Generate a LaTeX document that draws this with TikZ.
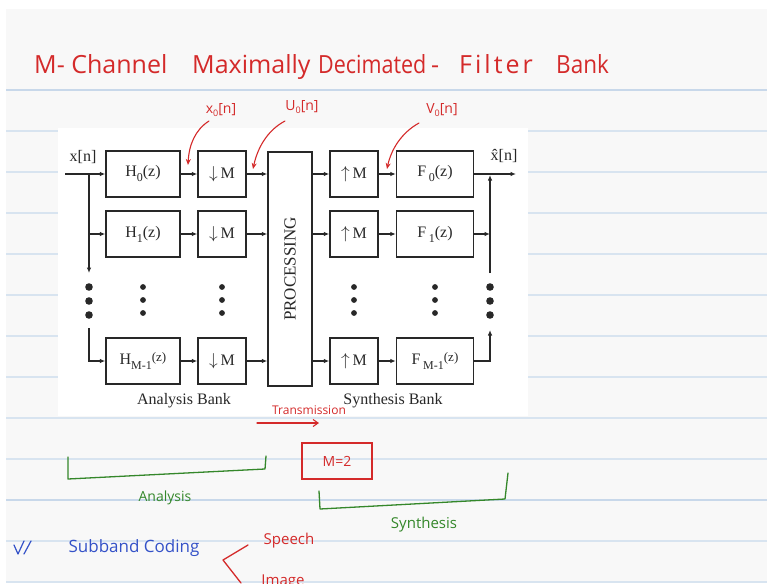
\documentclass[tikz,border=0pt]{standalone}
\usepackage{fontspec}
\setmainfont{Liberation Serif}
\newfontfamily\hand{Open Sans}
\newfontfamily\handwide{Open Sans}[LetterSpace=12]
\usetikzlibrary{arrows.meta}
\definecolor{ink}{RGB}{40,40,40}
\definecolor{hred}{RGB}{212,42,42}
\definecolor{hgreen}{RGB}{52,135,42}
\definecolor{hblue}{RGB}{52,82,200}
\definecolor{rulec}{RGB}{216,228,240}
\definecolor{rulek}{RGB}{200,216,234}
\definecolor{paper}{RGB}{248,248,248}
\newcommand\lowsub[1]{\raisebox{-5pt}{\fontsize{12}{12}\selectfont #1}}
\begin{document}
\begin{tikzpicture}[x=1pt,y=-1pt,
  wire/.style={draw=ink,line width=1.4pt},
  arr/.style={-{Latex[length=5.5pt,width=4.5pt]}},
  blk/.style={draw=ink,line width=1.4pt,minimum height=46pt,inner sep=0pt,
              font=\fontsize{16}{18}\selectfont,text=ink},
  lbl/.style={inner sep=0pt,text=ink,font=\fontsize{16}{18}\selectfont},
  hw/.style={inner sep=0pt,font=\hand\fontsize{#1}{#1}\selectfont},
  redline/.style={draw=hred,line width=1.1pt,line cap=round,line join=round},
  greenline/.style={draw=hgreen,line width=1.3pt,line cap=round,line join=round},
  blueline/.style={draw=hblue,line width=1.2pt,line cap=round,line join=round},
  bigdot/.style={fill=ink},
]
\useasboundingbox (0,0) rectangle (767,583);
\clip (0,0) rectangle (767,583);
% paper
\fill[white] (0,0) rectangle (767,583);
\fill[paper] (6,9) rectangle (767,583);
\foreach \yy in {131,172,213,254,295,336,377,418,459,541,582}
  \draw[rulec,line width=1.2pt] (6,\yy) -- (767,\yy);
\draw[rulek,line width=1.6pt] (6,90) -- (767,90);
\draw[rulek,line width=1.6pt] (6,500) -- (767,500);
\fill[white] (58,128) rectangle (528,416);

% ---------- title ----------
\begin{scope}[every node/.style={hw=25,text=hred,anchor=base west}]
\node (t1) at (34,74) {M- Channel};
\node (t2) at (192,74) {Maximally};
\node[xscale=0.86] (t3) at (318,74) {Decimated};
\node (t4) at (431,74) {-};
\node[font=\handwide\fontsize{25}{25}\selectfont] (t5) at (459,74) {Filter};
\node[xscale=0.9] (t6) at (556,74) {Bank};
\end{scope}

% ---------- blocks ----------
\foreach \i/\yy in {0/174,1/234,2/361}{
  \node[blk,minimum width=48pt] (D\i) at (222,\yy) {$\downarrow$\,M};
  \node[blk,minimum width=48pt] (U\i) at (354,\yy) {$\uparrow$\,M};
}
\node[blk,minimum width=74pt] (H0) at (143,174) {H\lowsub{0}(z)};
\node[blk,minimum width=74pt] (H1) at (143,234) {H\lowsub{1}(z)};
\node[blk,minimum width=74pt] (H2) at (143,361) {H\lowsub{M-1}\raisebox{3pt}{\fontsize{13}{13}\selectfont(z)}};
\node[blk,minimum width=77pt] (F0) at (435,174) {F\,\lowsub{0}(z)};
\node[blk,minimum width=77pt] (F1) at (435,234) {F\,\lowsub{1}(z)};
\node[blk,minimum width=77pt] (F2) at (435,361) {F\,\lowsub{M-1}\raisebox{3pt}{\fontsize{13}{13}\selectfont(z)}};
\node[blk,minimum width=44pt,minimum height=234pt] (P) at (290,269) {};
\node[lbl,rotate=90,font=\fontsize{17}{18}\selectfont] (Ptxt) at (P.center) {PROCESSING};

% ---------- labels ----------
\node[lbl] (xin) at (83,157) {x[n]};
\node[lbl] (xout) at (504,156) {\^{x}[n]};
\node[lbl] (abank) at (184,401) {Analysis Bank};
\node[lbl] (sbank) at (393,401) {Synthesis Bank};

% ---------- wires ----------
\coordinate (in) at (65,174);
\coordinate (jL0) at (89,174);
\coordinate (jL1) at (89,234);
\coordinate (lbA) at (89,273);
\coordinate (lbB) at (89,328);
\coordinate (jL2) at (89,361);
\draw[wire,arr] (in) -- (H0.west);
\draw[wire,arr] (jL0) -- (lbA);
\draw[wire,arr] (jL1) -- (H1.west);
\draw[wire,arr] (lbB) -- (jL2) -- (H2.west);
\foreach \i in {0,1,2}{
  \draw[wire,arr] (H\i.east) -- (D\i.west);
  \draw[wire,arr] (D\i.east) -- (D\i.east -| P.west);
  \draw[wire,arr] (U\i.west -| P.east) -- (U\i.west);
  \draw[wire,arr] (U\i.east) -- (F\i.west);
}
\coordinate (out) at (516,174);
\coordinate (jR0) at (490,175);
\coordinate (jR1) at (490,234);
\coordinate (rbA) at (490,273);
\coordinate (rbB) at (490,330);
\coordinate (jR2) at (490,361);
\draw[wire,arr] (F0.east) -- (out);
\draw[wire,arr] (rbA) -- (jR0);
\draw[wire,arr] (F1.east) -- (jR1);
\draw[wire,arr] (F2.east) -- (jR2) -- (rbB);

% dots
\foreach \yy in {287,301,315}{
  \fill[bigdot] (89,\yy) circle[radius=3.8pt];
  \fill[bigdot] (490,\yy) circle[radius=3.8pt];
}
\foreach \xx in {143,222,354,435}
  \foreach \yy in {287,300,313}
    \fill[bigdot] (\xx,\yy) circle[radius=2.9pt];

% ---------- red annotations ----------
\node[hw=14,text=hred] (ax0) at (221,110) {x\raisebox{-3pt}{\fontsize{9}{9}\selectfont 0}[n]};
\node[hw=14,text=hred] (au0) at (302,107) {U\raisebox{-3pt}{\fontsize{9}{9}\selectfont 0}[n]};
\node[hw=14,text=hred] (av0) at (442,110) {V\raisebox{-3pt}{\fontsize{9}{9}\selectfont 0}[n]};
\draw[redline,-{Stealth[length=6pt,width=5pt]}] (209,121) .. controls (195,130) and (189,145) .. (188,165);
\draw[redline,-{Stealth[length=6pt,width=5pt]}] (285,121) .. controls (266,131) and (257,150) .. (253,169);
\draw[redline,-{Stealth[length=6pt,width=5pt]}] (419,123) .. controls (401,133) and (391,150) .. (387,169);

\node[hw=12,text=hred] (trans) at (309,410) {Transmission};
\coordinate (trA) at (257,423);
\coordinate (trB) at (319,423);
\draw[redline,-{Straight Barb[length=5pt,width=7pt]}] (trA) -- (trB);
\node[draw=hred,line width=1.2pt,minimum width=70pt,minimum height=36pt,
      hw=14,text=hred] (mbox) at (337,461) {M=2};

% ---------- green brackets ----------
\draw[greenline] (68,457) -- (68,479) -- (265,469) -- (266,456);
\node[hw=14,text=hgreen] (lan) at (165,498) {Analysis};
\draw[greenline] (319,491) -- (320,509) -- (505,499) -- (508,473);
\node[hw=15,text=hgreen] (lsy) at (424,525) {Synthesis};

% ---------- bottom ----------
\draw[blueline] (14,545) -- (18,554) -- (24,541);
\draw[blueline] (31,541) -- (24,554);
\node[hw=17,text=hblue] (sbc) at (134,548) {Subband Coding};
\draw[redline,line width=1.3pt] (248,545) -- (223,560) -- (241,583);
\node[hw=15,text=hred] (sp) at (289,541) {Speech};
\node[hw=15,text=hred,anchor=north] (im) at (283,575) {Image};
\end{tikzpicture}
\end{document}
